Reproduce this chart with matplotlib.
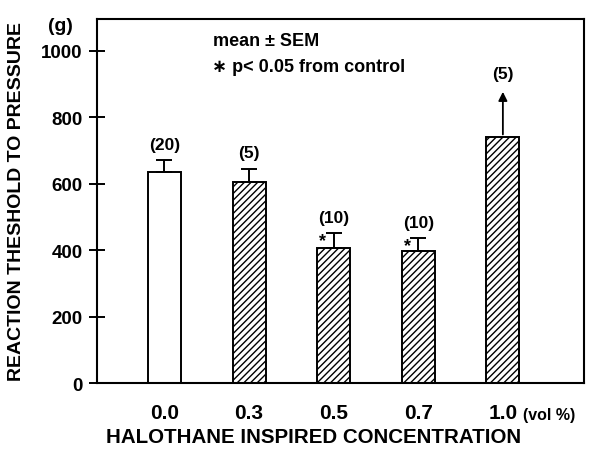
import numpy as np
import matplotlib.pyplot as plt

plt.rcParams['font.family'] = ['Liberation Sans', 'DejaVu Sans']
plt.rcParams['font.weight'] = 'bold'
plt.rcParams['hatch.linewidth'] = 1.0

# data
conc_labels = ["0.0", "0.3", "0.5", "0.7", "1.0"]
means = [635, 605, 407, 398, 740]
sems = [37, 40, 45, 39, 0]
n_labels = ["(20)", "(5)", "(10)", "(10)", "(5)"]
significant = [False, False, True, True, False]
arrow_top = 885

x = np.arange(len(conc_labels))

fig = plt.figure(figsize=(5.9, 4.52), dpi=100)
ax = fig.add_axes([0.164, 0.150, 0.826, 0.806])

for i in range(len(x)):
    hatch = None if i == 0 else "/////"
    ax.bar(x[i], means[i], width=0.39, color="white", edgecolor="black",
           linewidth=1.4, hatch=hatch, zorder=2)
    if sems[i] > 0:
        ax.errorbar(x[i], means[i], yerr=[[0], [sems[i]]], fmt="none",
                    ecolor="black", elinewidth=1.4, capsize=6, capthick=1.4, zorder=3)
        top = means[i] + sems[i]
    else:
        ax.annotate("", xy=(x[i], arrow_top), xytext=(x[i], means[i]),
                    arrowprops=dict(arrowstyle="-|>", color="black", lw=1.3,
                                    mutation_scale=13), zorder=3)
        top = arrow_top
    ax.text(x[i], top + 25, n_labels[i], ha="center", va="bottom", fontsize=12.5)
    if significant[i]:
        ax.text(x[i] - 0.13, means[i] + sems[i] - 22, "*", ha="center",
                va="center", fontsize=13)

ax.set_xlim(-0.80, 4.96)
ax.set_ylim(0, 1096)
ax.set_yticks([0, 200, 400, 600, 800, 1000])
ax.tick_params(axis="y", direction="inout", length=12, width=1.4, labelsize=13.5, pad=4)
ax.set_xticks([])
for sp in ax.spines.values():
    sp.set_linewidth(1.5)

for i, lab in enumerate(conc_labels):
    ax.text(x[i], -0.055, lab, transform=ax.get_xaxis_transform(),
            ha="center", va="top", fontsize=15)
ax.text(x[-1] + 0.24, -0.066, "(vol %)", transform=ax.get_xaxis_transform(),
        ha="left", va="top", fontsize=11.5)

ax.text(0.444, -0.12, "HALOTHANE INSPIRED CONCENTRATION", transform=ax.transAxes,
        ha="center", va="top", fontsize=14.8)
fig.text(0.028, 0.555, "REACTION THESHOLD TO PRESSURE", rotation=90,
         ha="center", va="center", fontsize=14)
fig.text(0.103, 0.942, "(g)", ha="center", va="center", fontsize=14)

ax.text(0.238, 0.94, "mean \u00b1 SEM", transform=ax.transAxes, fontsize=13, va="center")
ax.text(0.236, 0.868, "\u2217 p< 0.05 from control", transform=ax.transAxes,
        fontsize=13, va="center")

fig.savefig("out.png", dpi=100)
